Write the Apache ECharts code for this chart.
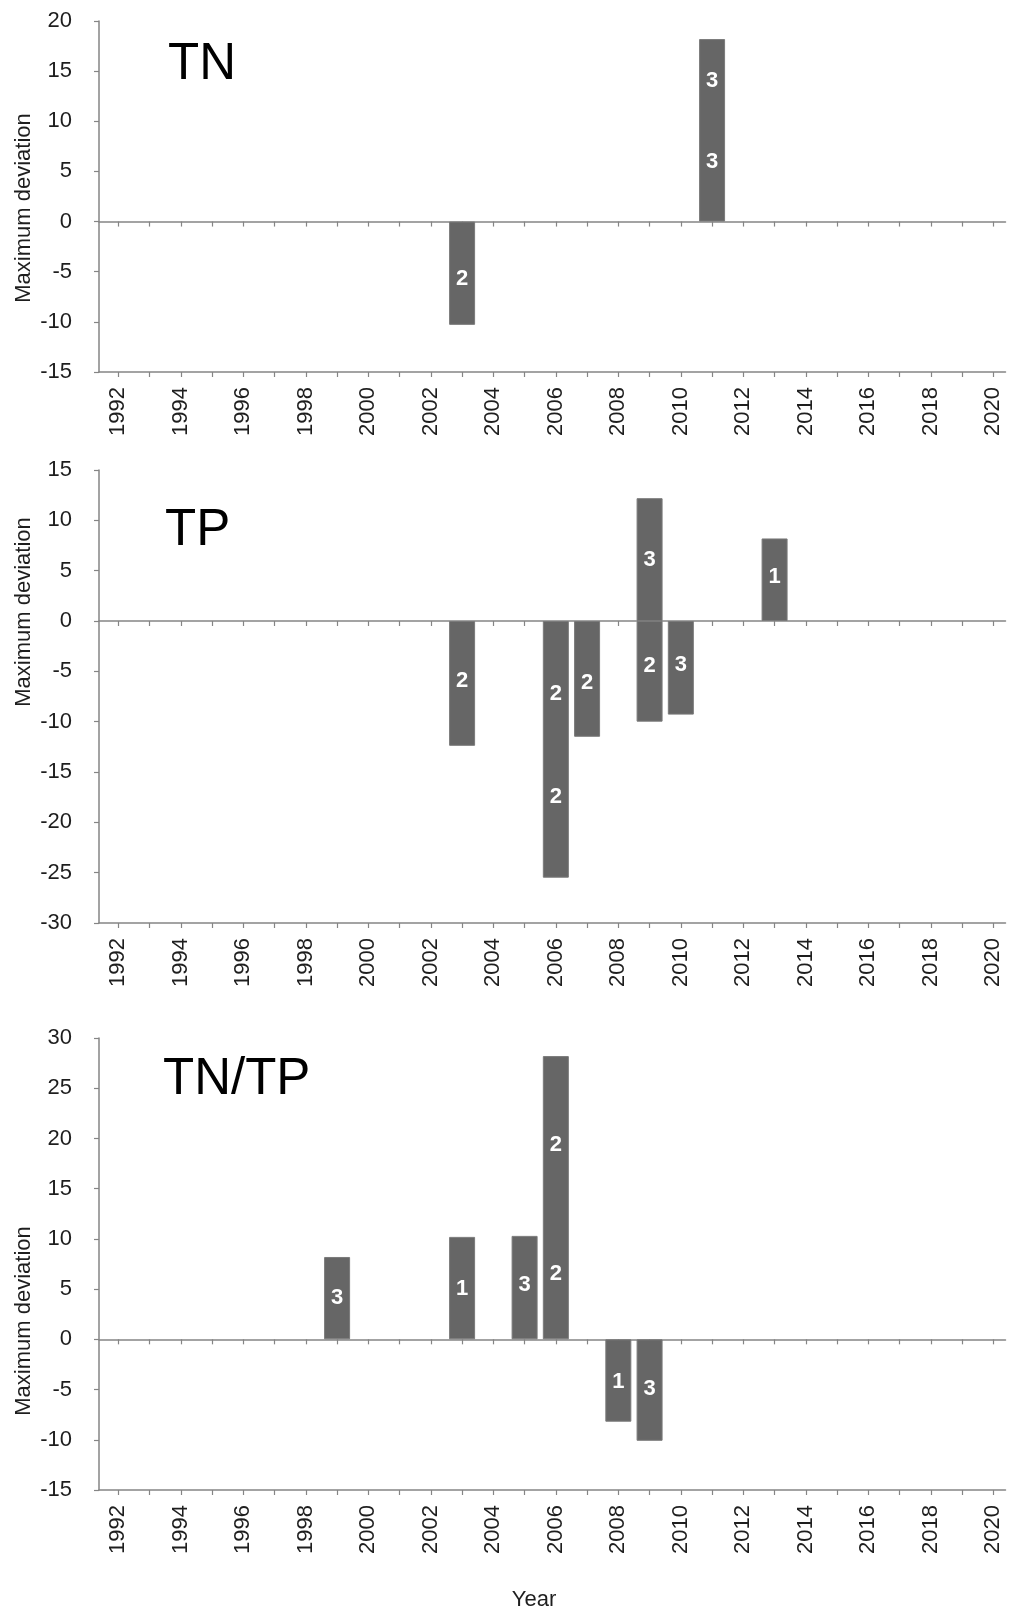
<!DOCTYPE html>
<html><head><meta charset="utf-8">
<script src="https://cdn.jsdelivr.net/npm/echarts@6/dist/echarts.min.js"></script>
<style>html,body{margin:0;padding:0;background:#ffffff}#c{width:1009px;height:1612px}</style>
</head><body><div id="c"></div>
<script>
// ---- data ----
const tickYears = [1992,1993,1994,1995,1996,1997,1998,1999,2000,2001,2002,2003,2004,2005,2006,2007,2008,2009,2010,2011,2012,2013,2014,2015,2016,2017,2018,2019,2020];
const labelYears = [1992,1994,1996,1998,2000,2002,2004,2006,2008,2010,2012,2014,2016,2018,2020];

const panelNames = ['TN', 'TP', 'TN/TP'];
const yMins = [-15, -30, -15];
const yMaxs = [20, 15, 30];

// TN
const tnYears = [2003, 2011];
const tnValues = [-10.3, 18.2];
const tnLabelYears = [2003, 2011, 2011];
const tnLabelValues = [-5.7, 14.0, 5.9];
const tnLabelTexts = ['2', '3', '3'];

// TP
const tpYears = [2003, 2006, 2007, 2009, 2009, 2010, 2013];
const tpValues = [-12.4, -25.5, -11.5, 12.2, -10.0, -9.3, 8.2];
const tpLabelYears = [2003, 2006, 2006, 2007, 2009, 2009, 2010, 2013];
const tpLabelValues = [-6.0, -7.2, -17.5, -6.2, 6.1, -4.5, -4.4, 4.4];
const tpLabelTexts = ['2', '2', '2', '2', '3', '2', '3', '1'];

// TN/TP
const ratioYears = [1999, 2003, 2005, 2006, 2008, 2009];
const ratioValues = [8.2, 10.2, 10.3, 28.2, -8.2, -10.1];
const ratioLabelYears = [1999, 2003, 2005, 2006, 2006, 2008, 2009];
const ratioLabelValues = [4.1, 5.0, 5.4, 19.4, 6.5, -4.2, -4.9];
const ratioLabelTexts = ['3', '1', '3', '2', '2', '1', '3'];

// ---- build chart ----
const FONT = '"Liberation Sans", Arial, Helvetica, sans-serif';
const TXT = '#1e1e1e';
const AXC = '#858585';
const BAR = '#666666';

const panels = [
  {years: tnYears, values: tnValues, ly: tnLabelYears, lv: tnLabelValues, lt: tnLabelTexts},
  {years: tpYears, values: tpValues, ly: tpLabelYears, lv: tpLabelValues, lt: tpLabelTexts},
  {years: ratioYears, values: ratioValues, ly: ratioLabelYears, lv: ratioLabelValues, lt: ratioLabelTexts}
];
const grids = [
  {left: 99, top: 21, width: 906.5, height: 351},
  {left: 99, top: 470, width: 906.5, height: 453},
  {left: 99, top: 1038, width: 906.5, height: 452}
];

const xAxis = [], yAxis = [], series = [];
panels.forEach((p, g) => {
  const base = {
    type: 'value', gridIndex: g, min: 1991.38, max: 2020.39,
    splitLine: {show: false}
  };
  xAxis.push(Object.assign({}, base, {
    position: 'bottom',
    axisLine: {show: true, onZero: false, lineStyle: {color: AXC, width: 1.5}},
    axisTick: {show: true, length: 5, inside: false, customValues: tickYears, lineStyle: {color: AXC, width: 1.2}},
    axisLabel: {show: true, customValues: labelYears, rotate: 90, margin: 15,
      fontSize: 22, fontFamily: FONT, color: TXT, formatter: v => String(v)}
  }));
  xAxis.push(Object.assign({}, base, {
    position: 'bottom',
    axisLine: {show: true, onZero: true, onZeroAxisIndex: g, lineStyle: {color: AXC, width: 1.5}},
    axisTick: {show: true, length: 5, customValues: tickYears, lineStyle: {color: AXC, width: 1.2}},
    axisLabel: {show: false}
  }));
  yAxis.push({
    type: 'value', gridIndex: g, min: yMins[g], max: yMaxs[g], interval: 5,
    splitLine: {show: false},
    axisLine: {show: true, onZero: false, lineStyle: {color: AXC, width: 1.5}},
    axisTick: {show: true, length: 5, lineStyle: {color: AXC, width: 1.2}},
    axisLabel: {fontSize: 22, fontFamily: FONT, color: TXT, margin: 27}
  });
  series.push({
    type: 'bar', xAxisIndex: 2 * g, yAxisIndex: g, barWidth: 26,
    itemStyle: {color: BAR, borderColor: '#7a7a7a', borderWidth: 1},
    data: p.years.map((y, i) => [y, p.values[i]]),
    animation: false, silent: true
  });
  series.push({
    type: 'scatter', xAxisIndex: 2 * g, yAxisIndex: g, symbolSize: 2,
    itemStyle: {color: 'rgba(0,0,0,0)'}, z: 5,
    label: {show: true, position: 'inside', formatter: '{b}', color: '#ffffff',
      fontSize: 22, fontWeight: 'bold', fontFamily: FONT, opacity: 1},
    labelLayout: {hideOverlap: false},
    data: p.ly.map((y, i) => ({name: p.lt[i], value: [y, p.lv[i]]})),
    animation: false, silent: true
  });
});

const titleY = [64.6, 531.3, 1079.6];
const titleX = [168, 165, 163];
const yNameY = [208, 612, 1321];
const graphic = [];
panels.forEach((p, g) => {
  graphic.push({type: 'text', x: titleX[g], y: titleY[g], silent: true,
    style: {text: panelNames[g], fontSize: 51, fontFamily: FONT, fill: '#000',
      align: 'left', verticalAlign: 'middle', textAlign: 'left', textVerticalAlign: 'middle'}});
  graphic.push({type: 'text', x: 24, y: yNameY[g], rotation: Math.PI / 2, silent: true,
    style: {text: 'Maximum deviation', fontSize: 22, fontFamily: FONT, fill: TXT,
      align: 'center', verticalAlign: 'middle', textAlign: 'center', textVerticalAlign: 'middle'}});
});
graphic.push({type: 'text', x: 534, y: 1600, silent: true,
  style: {text: 'Year', fontSize: 22, fontFamily: FONT, fill: TXT,
    align: 'center', verticalAlign: 'middle', textAlign: 'center', textVerticalAlign: 'middle'}});

const chart = echarts.init(document.getElementById('c'), null, {renderer: 'canvas'});
chart.setOption({
  backgroundColor: '#ffffff',
  animation: false,
  grid: grids,
  xAxis: xAxis,
  yAxis: yAxis,
  series: series,
  graphic: graphic
});
</script></body></html>
